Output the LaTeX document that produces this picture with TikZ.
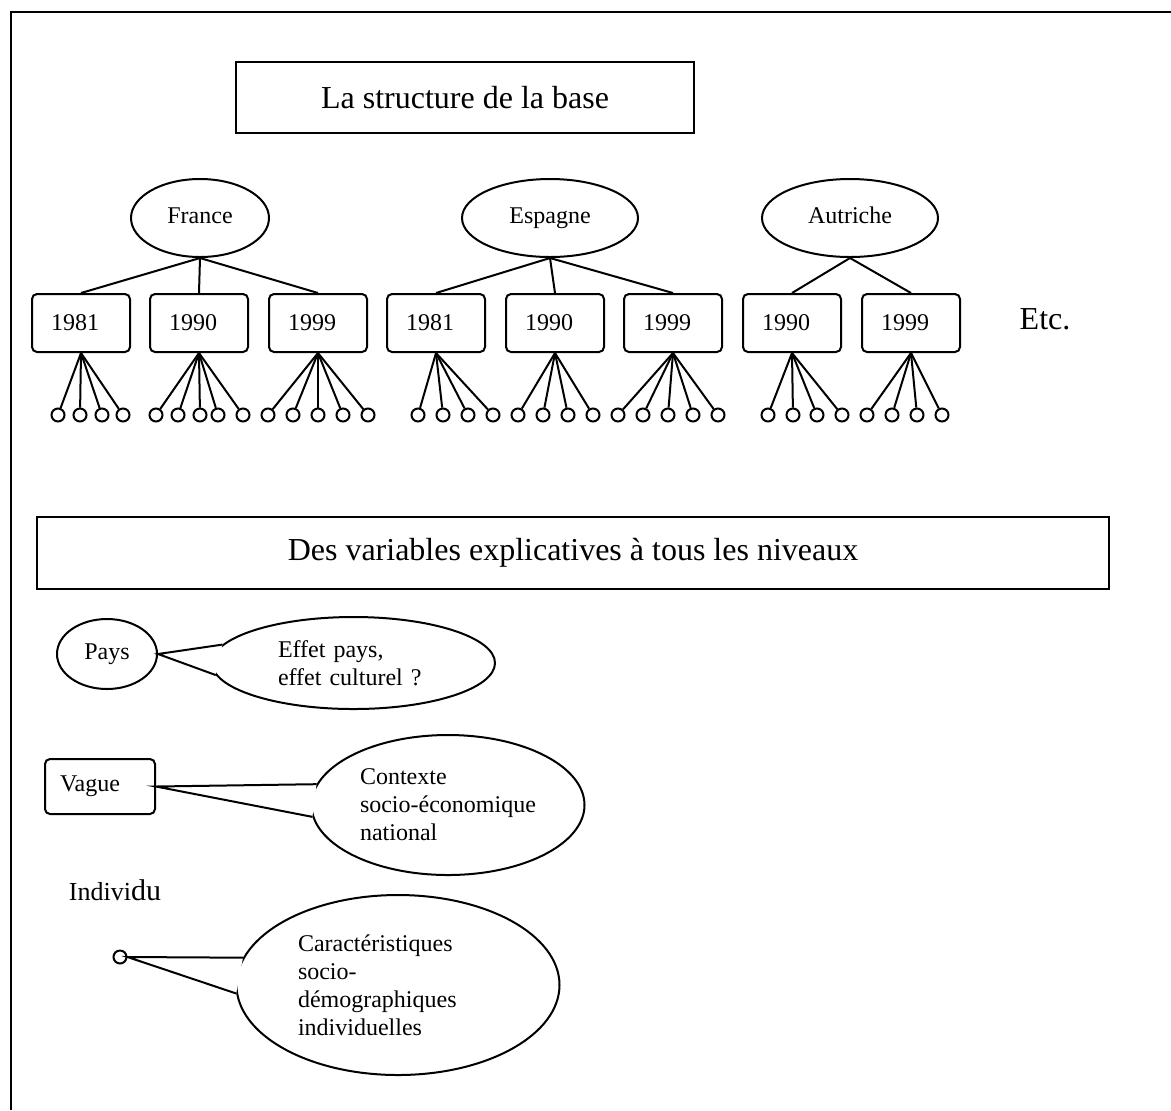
\documentclass[tikz,border=0pt]{standalone}
\usepackage{fontspec}
\setmainfont{Liberation Serif}
\usetikzlibrary{shapes.geometric}
\tikzset{
	titre/.style={draw, line width=1.4pt, font=\fontsize{16pt}{19pt}\selectfont},
	nation/.style={draw, ellipse, inner sep=0pt, minimum height=39pt, text height=1.5ex, text depth=.25ex, font=\fontsize{12pt}{14pt}\selectfont},
	annee/.style={draw, rounded corners=2.5pt, minimum width=49pt, minimum height=29pt, text width=30pt, align=left, font=\fontsize{12pt}{14pt}\selectfont},
	indiv/.style={draw, circle, inner sep=0pt, minimum size=6.5pt},
	bulle/.style={draw, ellipse, inner sep=0pt, align=left, font=\fontsize{12pt}{14pt}\selectfont}
}
\newcommand{\feuilles}[2]{
	\foreach \fx [count=\k] in {#2}{
		\node[indiv](#1-\k)at(\fx, 415){};
		\draw(#1.south)--(#1-\k);
	}
}

\begin{document}
\begin{tikzpicture}[x=.5pt, y=-.5pt, line width=1pt]
    \useasboundingbox(0, 0)rectangle(1171, 1110);
    \draw[line width=1.4pt](11, 1110)--(11, 12)--(1171, 12);
    \node[titre, minimum width=229pt, minimum height=35.5pt](structure)at(465, 97.5){La structure de la base};
    \node[nation, minimum width=69pt](france)at(200, 218){France};
    \node[nation, minimum width=88pt](espagne)at(550, 218){Espagne};
    \node[nation, minimum width=88pt](autriche)at(850, 218){Autriche};
    \node[annee](f81)at(81, 323){1981};
    \node[annee](f90)at(199, 323){1990};
    \node[annee](f99)at(318, 323){1999};
    \node[annee](e81)at(436, 323){1981};
    \node[annee](e90)at(555, 323){1990};
    \node[annee](e99)at(673, 323){1999};
    \node[annee](a90)at(792, 323){1990};
    \node[annee](a99)at(911, 323){1999};
    \foreach \v in {f81, f90, f99}\draw(france.south)--(\v.north);
    \foreach \v in {e81, e90, e99}\draw(espagne.south)--(\v.north);
    \foreach \v in {a90, a99}\draw(autriche.south)--(\v.north);
    \feuilles{f81}{58, 80, 102, 123};
    \feuilles{f90}{156, 178, 200, 218, 243};
    \feuilles{f99}{268, 293, 318, 343, 368};
    \feuilles{e81}{418, 443, 468, 493};
    \feuilles{e90}{518, 543, 568, 593};
    \feuilles{e99}{618, 643, 668, 693, 718};
    \feuilles{a90}{768, 793, 817, 842};
    \feuilles{a99}{867, 892, 917, 942};
    \node[font=\fontsize{16pt}{19pt}\selectfont](etc)at(1045, 319){Etc.};
    \node[titre, minimum width=536pt, minimum height=36pt](niveaux)at(573, 553){Des variables explicatives à tous les niveaux};
    % pays, vague, individu
    \node[nation, minimum width=50pt, minimum height=35pt](pays)at(107, 654){Pays};
    \node[bulle, text width=75.5pt, minimum width=141.5pt, minimum height=46pt](effet)at(353.5, 663){Effet pays,\\effet culturel ?};
    \fill[white](pays.east)--(effet.172)--(effet.185)--cycle;
    \draw(effet.172)--(pays.east)--(effet.185);
    \node[annee, text width=40pt, minimum width=55pt, minimum height=27.5pt](vague)at(100, 786.5){Vague};
    \node[bulle, text width=88pt, minimum width=136.5pt, minimum height=70pt](contexte)at(448, 805){Contexte\\socio-économique\\national};
    \fill[white](vague.east)--(contexte.171)--(contexte.185)--cycle;
    \draw(contexte.171)--(vague.east)--(contexte.185);
    \node[font=\fontsize{13pt}{16pt}\selectfont](individu)at(115, 890){Indivi{\fontsize{15pt}{18pt}\selectfont du}};
    \node[indiv](ind)at(120, 957){};
    \node[bulle, text width=100pt, minimum width=161.5pt, minimum height=90pt](carac)at(398, 985){Caractéristiques\\socio-\\démographiques\\individuelles};
    \fill[white](ind.east)--(carac.170)--(carac.183)--cycle;
    \draw(carac.170)--(ind.east)--(carac.183);
\end{tikzpicture}
\end{document}
